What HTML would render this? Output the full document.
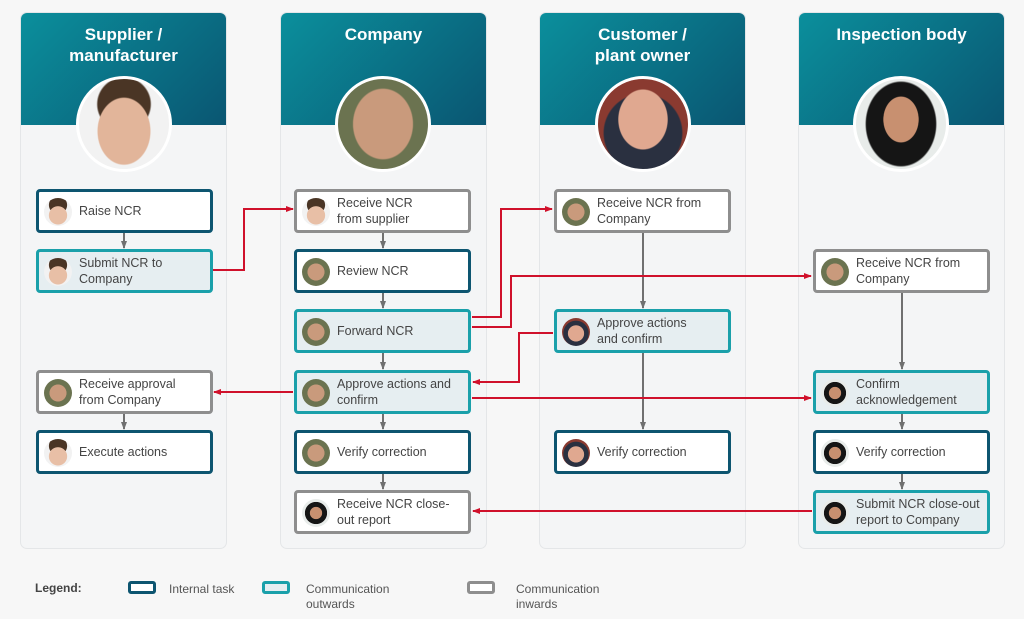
<!DOCTYPE html>
<html><head><meta charset="utf-8"><style>
body{margin:0;width:1024px;height:619px;background:#f7f7f7;font-family:"Liberation Sans",sans-serif;position:relative;overflow:hidden}
.col{position:absolute;top:12px;width:207px;height:537px;background:#f4f5f6;border:1px solid #e4e6e8;border-radius:7px;box-sizing:border-box;overflow:hidden}
.hd{height:112px;background:linear-gradient(135deg,#0b8f9c,#0a5672);color:#fff;font-weight:bold;font-size:17px;text-align:center;padding-top:11px;box-sizing:border-box;line-height:21px}
.big{position:absolute;width:96px;height:96px;border-radius:50%;border:3px solid #fff;box-sizing:border-box;top:76px;overflow:hidden}
.big.a{background:radial-gradient(ellipse 30% 38% at 50% 58%,#e2b59a 0 96%,transparent 100%),radial-gradient(circle at 50% 28%,#4a3525 0 33%,#f2f2f2 35%)}
.big.b{background:radial-gradient(ellipse 34% 40% at 50% 50%,#c99a7c 0 96%,transparent 100%),#6b7350}
.big.c{background:radial-gradient(ellipse 28% 34% at 50% 45%,#e0a890 0 96%,transparent 100%),radial-gradient(circle at 50% 60%,#2a3040 0 55%,#8a3a30 57%)}
.big.d{background:radial-gradient(ellipse 20% 26% at 50% 45%,#c89070 0 96%,transparent 100%),radial-gradient(ellipse 40% 48% at 50% 50%,#151515 0 96%,#e8ecea 100%)}
.box{position:absolute;width:177px;height:44px;border:3px solid;border-radius:4px;box-sizing:border-box;background:#fff;font-size:12.5px;color:#444;display:flex;align-items:center;padding-left:40px;line-height:16px}
.i{border-color:#0d5570}.o{border-color:#1aa0aa;background:#e6eef1}.n{border-color:#8e8e8e}
.av{position:absolute;left:5px;top:6px;width:28px;height:28px;border-radius:50%;overflow:hidden}
.av.a{background:radial-gradient(circle at 50% 62%,#e8bfa6 0 40%,transparent 42%),radial-gradient(circle at 50% 25%,#4a3525 0 35%,#f2f2f2 37%)}
.av.b{background:radial-gradient(circle at 50% 50%,#c99a7c 0 42%,#6b7350 44%)}
.av.c{background:radial-gradient(circle at 50% 55%,#e0a890 0 38%,#2a3040 40% 60%,#8a3a30 62%)}
.av.d{background:radial-gradient(circle at 50% 50%,#c89070 0 30%,#151515 32% 55%,#e8ecea 57%)}
.lg{position:absolute;font-size:12px;color:#555;line-height:15px}
.sw{position:absolute;width:28px;height:13px;border:3px solid;border-radius:3px;box-sizing:border-box;top:581px}
</style></head><body>
<div class="col" style="left:20px"><div class="hd">Supplier /<br>manufacturer</div></div>
<div class="col" style="left:280px"><div class="hd">Company</div></div>
<div class="col" style="left:539px"><div class="hd">Customer /<br>plant owner</div></div>
<div class="col" style="left:798px"><div class="hd">Inspection body</div></div>
<div class="big a" style="left:76px"></div>
<div class="big b" style="left:335px"></div>
<div class="big c" style="left:595px"></div>
<div class="big d" style="left:853px"></div>

<svg style="position:absolute;left:0;top:0" width="1024" height="619">
<defs><marker id="r" markerWidth="8" markerHeight="8" refX="7" refY="4" orient="auto" markerUnits="userSpaceOnUse"><path d="M0,1 L8,4 L0,7Z" fill="#d0112b"/></marker>
<marker id="g" markerWidth="8" markerHeight="8" refX="7" refY="4" orient="auto" markerUnits="userSpaceOnUse"><path d="M0,1 L8,4 L0,7Z" fill="#707070"/></marker></defs>
<g stroke="#707070" stroke-width="2" fill="none" marker-end="url(#g)">
<line x1="124" y1="233" x2="124" y2="248"/><line x1="124" y1="414" x2="124" y2="429"/>
<line x1="383" y1="233" x2="383" y2="248"/><line x1="383" y1="293" x2="383" y2="308"/><line x1="383" y1="353" x2="383" y2="369"/><line x1="383" y1="414" x2="383" y2="429"/><line x1="383" y1="474" x2="383" y2="489"/>
<line x1="643" y1="233" x2="643" y2="308"/><line x1="643" y1="353" x2="643" y2="429"/>
<line x1="902" y1="293" x2="902" y2="369"/><line x1="902" y1="414" x2="902" y2="429"/><line x1="902" y1="474" x2="902" y2="489"/>
</g>
<g stroke="#d0112b" stroke-width="2" fill="none" marker-end="url(#r)">
<polyline points="213,270 244,270 244,209 293,209"/>
<polyline points="472,317 501,317 501,209 552,209"/>
<polyline points="472,327 511,327 511,276 811,276"/>
<polyline points="553,333 519,333 519,382 473,382"/>
<polyline points="472,398 811,398"/>
<polyline points="293,392 214,392"/>
<polyline points="812,511 473,511"/>
</g></svg>

<div class="box i" style="left:36px;top:189px"><div class="av a"></div>Raise NCR</div>
<div class="box o" style="left:36px;top:249px"><div class="av a"></div>Submit NCR to<br>Company</div>
<div class="box n" style="left:36px;top:370px"><div class="av b"></div>Receive approval<br>from Company</div>
<div class="box i" style="left:36px;top:430px"><div class="av a"></div>Execute actions</div>

<div class="box n" style="left:294px;top:189px"><div class="av a"></div>Receive NCR<br>from supplier</div>
<div class="box i" style="left:294px;top:249px"><div class="av b"></div>Review NCR</div>
<div class="box o" style="left:294px;top:309px"><div class="av b"></div>Forward NCR</div>
<div class="box o" style="left:294px;top:370px"><div class="av b"></div>Approve actions and<br>confirm</div>
<div class="box i" style="left:294px;top:430px"><div class="av b"></div>Verify correction</div>
<div class="box n" style="left:294px;top:490px"><div class="av d"></div>Receive NCR close-<br>out report</div>

<div class="box n" style="left:554px;top:189px"><div class="av b"></div>Receive NCR from<br>Company</div>
<div class="box o" style="left:554px;top:309px"><div class="av c"></div>Approve actions<br>and confirm</div>
<div class="box i" style="left:554px;top:430px"><div class="av c"></div>Verify correction</div>

<div class="box n" style="left:813px;top:249px"><div class="av b"></div>Receive NCR from<br>Company</div>
<div class="box o" style="left:813px;top:370px"><div class="av d"></div>Confirm<br>acknowledgement</div>
<div class="box i" style="left:813px;top:430px"><div class="av d"></div>Verify correction</div>
<div class="box o" style="left:813px;top:490px"><div class="av d"></div>Submit NCR close-out<br>report to Company</div>

<div class="lg" style="left:35px;top:581px;font-weight:bold;color:#444">Legend:</div>
<div class="sw" style="left:128px;border-color:#0d5570;background:#fff"></div>
<div class="lg" style="left:169px;top:582px">Internal task</div>
<div class="sw" style="left:262px;border-color:#1aa0aa;background:#e6eef1"></div>
<div class="lg" style="left:306px;top:582px">Communication<br>outwards</div>
<div class="sw" style="left:467px;border-color:#8e8e8e;background:#fff"></div>
<div class="lg" style="left:516px;top:582px">Communication<br>inwards</div>
</body></html>
